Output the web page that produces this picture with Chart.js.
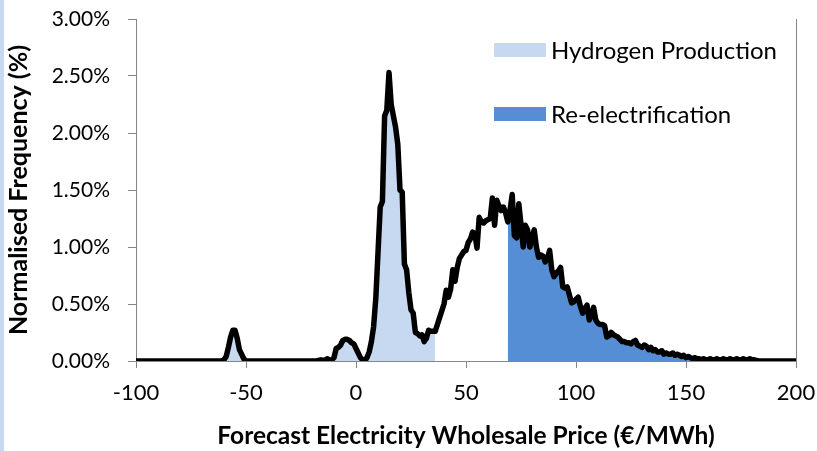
<!DOCTYPE html>
<html><head><meta charset="utf-8">
<script src="https://cdn.jsdelivr.net/npm/chart.js@4.4.1/dist/chart.umd.min.js"></script>
<style>
html,body{margin:0;padding:0;background:#fff;}
#wrap{position:relative;width:817px;height:451px;background:#fff;}
#strip{position:absolute;left:0;top:0;width:4px;height:451px;background:#C6D9F1;}
canvas{position:absolute;left:0;top:0;}
</style></head><body>
<div id="wrap"><div id="strip"></div><canvas id="c" width="817" height="451"></canvas></div>
<script>
// Price bins (€/MWh)
const prices = [
  -100,
  -61, -60, -59, -58, -57, -56, -55, -54, -53, -52, -51, -50,
  -18, -17, -16, -15, -14, -13, -12, -11, -10, -9,
  -8, -7, -6, -5, -4, -3, -2, -1, 0, 1,
  2, 3, 4, 5, 6, 7, 8, 9, 10, 11,
  12, 13, 14, 15, 16, 17, 18, 19, 20, 21,
  22, 23, 24, 25, 26, 27, 28, 29, 30, 31,
  32, 33, 34, 35, 36, 37, 38, 39, 40, 41,
  42, 43, 44, 45, 46, 47, 48, 49, 50, 51,
  52, 53, 54, 55, 56, 57, 58, 59, 60, 61,
  62, 63, 64, 65, 66, 67, 68, 69, 70, 71,
  72, 73, 74, 75, 76, 77, 78, 79, 80, 81,
  82, 83, 84, 85, 86, 87, 88, 89, 90, 91,
  92, 93, 94, 95, 96, 97, 98, 99, 100, 101,
  102, 103, 104, 105, 106, 107, 108, 109, 110, 111,
  112, 113, 114, 115, 116, 117, 118, 119, 120, 121,
  122, 123, 124, 125, 126, 127, 128, 129, 130, 131,
  132, 133, 134, 135, 136, 137, 138, 139, 140, 141,
  142, 143, 144, 145, 146, 147, 148, 149, 150, 151,
  152, 153, 154, 155, 156, 157, 158, 159, 160, 161,
  162, 163, 164, 165, 166, 167, 168, 169, 170, 171,
  172, 173, 174, 175, 176, 177, 178, 179, 180, 181,
  182, 183,
  200
];
// Normalised frequency (%)
const frequency = [
  0,
  0, 0.01, 0.04, 0.12, 0.21, 0.27, 0.27, 0.2, 0.1, 0.06, 0.02, 0,
  0, 0.005, 0.01, 0.005, 0.01, 0.02, 0.005, 0.01, 0.03, 0.11,
  0.12, 0.14, 0.18, 0.19, 0.19, 0.18, 0.16, 0.15, 0.11, 0.07,
  0.03, 0.01, 0.0, 0.03, 0.08, 0.17, 0.3, 0.55, 0.95, 1.35,
  1.4, 2.15, 2.2, 2.53, 2.25, 2.15, 2.05, 1.9, 1.5, 1.48,
  0.85, 0.8, 0.6, 0.45, 0.42, 0.25, 0.24, 0.22, 0.23, 0.17,
  0.2, 0.27, 0.26, 0.26, 0.26, 0.32, 0.38, 0.44, 0.5, 0.62,
  0.56, 0.63, 0.8, 0.7, 0.82, 0.9, 0.93, 0.96, 0.97, 1.04,
  1.07, 1.13, 1.12, 0.99, 1.26, 1.22, 1.21, 1.23, 1.24, 1.25,
  1.43, 1.19, 1.41, 1.36, 1.32, 1.35, 1.3, 1.22, 1.32, 1.46,
  1.1, 1.08, 1.38, 1.2, 1.0, 1.19, 1.15, 1.0, 1.08, 1.15,
  1.0, 0.91, 0.93, 0.92, 0.87, 0.9, 0.97, 0.8, 0.74, 0.77,
  0.79, 0.82, 0.65, 0.64, 0.65, 0.58, 0.51, 0.52, 0.54, 0.56,
  0.48, 0.42, 0.46, 0.49, 0.36, 0.4, 0.47, 0.36, 0.33, 0.32,
  0.32, 0.31, 0.21, 0.22, 0.25, 0.23, 0.22, 0.21, 0.19, 0.17,
  0.17, 0.16, 0.16, 0.15, 0.17, 0.18, 0.14, 0.13, 0.12, 0.14,
  0.13, 0.1, 0.12, 0.09, 0.1, 0.08, 0.08, 0.09, 0.06, 0.07,
  0.06, 0.06, 0.07, 0.05, 0.06, 0.05, 0.04, 0.05, 0.03, 0.04,
  0.03, 0.02, 0.03, 0.02, 0.02, 0.01, 0.02, 0.01, 0.01, 0.02,
  0.01, 0.01, 0.02, 0.01, 0.01, 0.02, 0.01, 0.01, 0.02, 0.01,
  0.01, 0.02, 0.01, 0.01, 0.02, 0.01, 0.01, 0.02, 0.01, 0.01,
  0.005, 0,
  0
];
const seriesNames = ['Hydrogen Production', 'Re-electrification'];
const seriesColors = ['#C6D9F1', '#558ED5'];
const hydrogenMaxPrice = 36;
const reelecMinPrice = 69;
const xTitle = 'Forecast Electricity Wholesale Price (€/MWh)';
const yTitle = 'Normalised Frequency (%)';

const FONT = 'Lato';
const AXIS = '#868686';

const linePts = prices.map((p, i) => ({x: p, y: frequency[i]}));
const h2Pts = prices.map((p, i) => ({x: p, y: p <= hydrogenMaxPrice ? frequency[i] : null}));
const rePts = prices.map((p, i) => ({x: p, y: p >= reelecMinPrice ? frequency[i] : null}));

const legendPlugin = {
  id: 'customLegend',
  afterDraw(chart) {
    const ctx = chart.ctx;
    const ys = [50, 114];
    ctx.save();
    ctx.font = '24px ' + FONT;
    ctx.textBaseline = 'middle';
    ctx.textAlign = 'left';
    seriesNames.forEach((n, i) => {
      ctx.fillStyle = seriesColors[i];
      ctx.fillRect(494, ys[i] - 7, 52, 14);
      ctx.fillStyle = '#000';
      ctx.fillText(n, 551, ys[i] + 1);
    });
    ctx.restore();
  }
};

new Chart(document.getElementById('c'), {
  type: 'line',
  data: {
    datasets: [
      {label: 'line', data: linePts, borderColor: '#000', borderWidth: 5.5, pointRadius: 0,
       tension: 0, fill: false, borderJoinStyle: 'round', borderCapStyle: 'round'},
      {label: seriesNames[0], data: h2Pts, borderWidth: 0, borderColor: 'rgba(0,0,0,0)',
       backgroundColor: seriesColors[0], pointRadius: 0, tension: 0, fill: 'origin', spanGaps: false},
      {label: seriesNames[1], data: rePts, borderWidth: 0, borderColor: 'rgba(0,0,0,0)',
       backgroundColor: seriesColors[1], pointRadius: 0, tension: 0, fill: 'origin', spanGaps: false}
    ]
  },
  options: {
    responsive: false,
    animation: false,
    devicePixelRatio: 1,
    layout: {padding: {top: 19, left: 0, right: 0, bottom: 0}},
    plugins: {legend: {display: false}, tooltip: {enabled: false}},
    scales: {
      x: {
        type: 'linear', min: -100, max: 200,
        ticks: {stepSize: 50, color: '#000', font: {family: FONT, size: 22}, padding: 12, maxRotation: 0},
        grid: {display: true, drawOnChartArea: false, drawTicks: true, tickLength: 7, color: AXIS},
        border: {display: true, color: AXIS, width: 1},
        title: {display: true, text: xTitle, color: '#000', font: {family: FONT, size: 24.5, weight: 'bold'}, padding: {top: 0, bottom: 0}},
        afterFit: s => { s.height = 90; s.paddingLeft = 0; s.paddingRight = 0; }
      },
      y: {
        min: 0, max: 3,
        ticks: {stepSize: 0.5, color: '#000', font: {family: FONT, size: 21}, padding: 18,
                callback: v => v.toFixed(2) + '%'},
        grid: {display: true, drawOnChartArea: false, drawTicks: true, tickLength: 8, color: AXIS},
        border: {display: true, color: AXIS, width: 1},
        title: {display: true, text: yTitle, color: '#000', font: {family: FONT, size: 25, weight: 'bold'}, padding: {top: 4, bottom: 0}},
        afterFit: s => { s.width = 136; s.paddingTop = 0; s.paddingBottom = 0; }
      },
      y2: {
        position: 'right', min: 0, max: 3,
        ticks: {display: false},
        grid: {display: false, drawTicks: false},
        border: {display: true, color: AXIS, width: 1},
        afterFit: s => { s.width = 21; s.paddingTop = 0; s.paddingBottom = 0; }
      }
    }
  },
  plugins: [legendPlugin]
});
</script>
</body></html>
